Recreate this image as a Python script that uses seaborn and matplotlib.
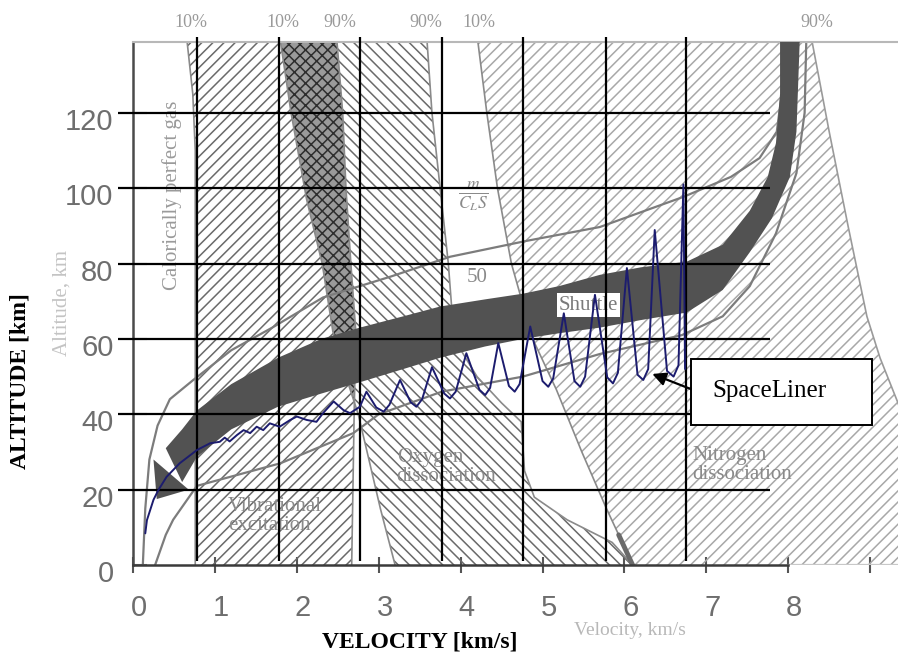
import numpy as np
import matplotlib
matplotlib.use("Agg")
import matplotlib.pyplot as plt
import matplotlib.transforms as mtransforms
from matplotlib import font_manager
from matplotlib.patches import Rectangle
import seaborn as sns

# ---------------- data ----------------
# SpaceLiner trajectory: velocity [km/s], altitude [km]
TRAJ_V = [0.15, 0.17, 0.21, 0.25, 0.31, 0.41, 0.57, 0.78, 0.94, 1.06,
          1.12, 1.18, 1.27, 1.35, 1.43, 1.51, 1.59, 1.67, 1.79, 1.92,
          2.00, 2.12, 2.24, 2.32, 2.45, 2.57, 2.65, 2.77, 2.85, 2.97,
          3.06, 3.13, 3.26, 3.39, 3.46, 3.53, 3.65, 3.80, 3.87, 3.94,
          4.07, 4.23, 4.30, 4.36, 4.46, 4.59, 4.66, 4.72, 4.85, 5.00,
          5.07, 5.13, 5.26, 5.39, 5.46, 5.52, 5.64, 5.79, 5.86, 5.92,
          6.03, 6.16, 6.23, 6.29, 6.37, 6.52, 6.60, 6.66, 6.72, 6.74]
TRAJ_A = [8.4, 11.9, 14.6, 17.3, 19.9, 23.4, 27.0, 30.5, 32.3, 32.7,
          33.8, 32.8, 34.5, 35.8, 35.0, 36.7, 35.8, 37.6, 36.7, 38.5,
          39.4, 38.5, 38.0, 40.3, 43.4, 41.1, 40.3, 42.0, 46.0, 41.8,
          40.7, 42.5, 49.1, 43.2, 42.0, 44.0, 52.5, 45.5, 44.2, 46.0,
          56.2, 46.5, 45.1, 47.0, 58.9, 47.5, 46.0, 48.0, 63.3, 48.8,
          47.3, 49.5, 66.8, 48.8, 47.3, 50.0, 71.7, 49.8, 48.2, 51.0,
          78.8, 50.5, 49.1, 52.0, 88.9, 51.5, 50.0, 53.0, 101.0, 52.0]

# Shuttle entry corridor (upper and lower edge) and its arrow head
SHUTTLE_UP_V = [0.40, 0.60, 0.78, 1.20, 1.77, 2.30, 2.77, 3.30, 3.75, 4.30, 4.76,
                5.20, 5.70, 6.20, 6.76, 7.20, 7.53, 7.75, 7.85, 7.90, 7.90]
SHUTTLE_UP_A = [31, 36, 41, 48, 55, 60, 63, 66, 68.6, 70.5, 72,
                74, 77, 79, 80.5, 85, 94, 103, 112, 125, 139]
SHUTTLE_LO_V = [0.60, 0.78, 1.20, 1.77, 2.30, 2.77, 3.30, 3.75, 4.30, 4.76,
                5.20, 5.70, 6.20, 6.76, 7.20, 7.53, 7.80, 8.02, 8.10, 8.14]
SHUTTLE_LO_A = [22, 28.7, 36, 42, 45.5, 48.5, 52, 55, 58, 60,
                61.5, 63, 65, 67, 73, 83, 92, 103, 115, 139]
SHUTTLE_HEAD_V = [0.25, 0.29, 0.68]
SHUTTLE_HEAD_A = [28.0, 17.5, 20.0]

# Region boundaries (10 % / 90 % lines), altitude ascending
VIB10_A = [0, 40, 80, 110, 125, 139]
VIB10_V = [0.76, 0.76, 0.76, 0.76, 0.73, 0.66]
VIB90_A = [0, 40, 62, 80, 100, 120, 139]
VIB90_V = [2.67, 2.70, 2.72, 2.66, 2.60, 2.56, 2.49]
OXY10_A = [0, 15, 28, 40, 50, 62, 80, 97, 120, 139]
OXY10_V = [3.20, 3.02, 2.88, 2.75, 2.60, 2.44, 2.31, 2.12, 1.93, 1.80]
OXY90_A = [0, 6, 12, 18, 25, 38, 43, 50, 60, 80, 100, 120, 139]
OXY90_V = [6.10, 5.85, 5.30, 4.90, 4.78, 4.74, 4.50, 4.20, 3.92, 3.85, 3.75, 3.65, 3.59]
NIT10_A = [0, 8, 15, 30, 46.5, 60, 80, 100, 120, 139]
NIT10_V = [6.10, 5.93, 5.78, 5.48, 5.17, 4.88, 4.62, 4.45, 4.32, 4.21]
NIT90_A = [0, 20, 43, 55, 66, 90, 115, 139]
NIT90_V = [10.0, 9.70, 9.34, 9.12, 8.96, 8.73, 8.50, 8.29]

# lines of constant m/(C_L S)
MCLS_HI_V = [0.12, 0.15, 0.20, 0.30, 0.45, 0.73, 1.20, 1.70, 2.32, 3.14,
             3.87, 4.80, 5.70, 6.72, 7.30, 7.65, 7.86, 7.92, 7.95]
MCLS_HI_A = [0, 15, 28, 37, 44, 49, 57, 63, 71, 76.5,
             81.8, 86, 89.7, 97.7, 103, 108, 115, 125, 139]
MCLS_LO_V = [0.27, 0.40, 0.49, 0.78, 1.80, 2.69, 3.00, 3.77, 4.76, 5.70,
             6.70, 7.20, 7.53, 7.85, 8.10, 8.20, 8.22]
MCLS_LO_A = [0, 8, 12, 21, 27, 35, 40, 46, 50, 56,
             61, 66, 74, 88, 104, 120, 139]

# ticks, overlay grid, percentage labels
X_TICKS = [0, 1, 2, 3, 4, 5, 6, 7, 8, 9]
X_TICKLABELS = ["0", "1", "2", "3", "4", "5", "6", "7", "8", ""]
Y_TICKS = [0, 20, 40, 60, 80, 100, 120]
GRID_V = [0.78, 1.78, 2.77, 3.77, 4.76, 5.77, 6.75]
GRID_A = [20, 40, 60, 80, 100, 120]
PCT_TEXT = ["10%", "10%", "90%", "90%", "10%", "90%"]
PCT_V = [0.71, 1.83, 2.53, 3.57, 4.22, 8.35]

# ---------------- style ----------------
sns.set_theme(style="white")


def pick_font(cands, default):
    for f in cands:
        try:
            font_manager.findfont(font_manager.FontProperties(family=f),
                                  fallback_to_default=False)
            return f
        except Exception:
            pass
    return default


SERIF = pick_font(["Liberation Serif"], "DejaVu Serif")
NARROW = pick_font(["Liberation Sans Narrow"], None)
TICKFONT = NARROW if NARROW else "Liberation Sans"
TICKSIZE = 24 if NARROW else 21
plt.rcParams["font.family"] = [SERIF, "DejaVu Sans"]
plt.rcParams["mathtext.fontset"] = "stix"
plt.rcParams["hatch.linewidth"] = 1.1

W, H = 898, 657
fig = plt.figure(figsize=(W / 100, H / 100), dpi=100)
fig.patch.set_facecolor("white")
ax = fig.add_axes([133 / W, 1 - 565 / H, 1 - 133 / W, (565 - 42) / H])
ax.set_facecolor("white")
XMAX, YMAX = 9.34, 138.8

# ---------------- hatched regions ----------------
alt_f = np.linspace(0, 139, 500)
vib10 = np.interp(alt_f, VIB10_A, VIB10_V)
vib90 = np.interp(alt_f, VIB90_A, VIB90_V)
oxy10 = np.interp(alt_f, OXY10_A, OXY10_V)
oxy90 = np.interp(alt_f, OXY90_A, OXY90_V)
nit10 = np.interp(alt_f, NIT10_A, NIT10_V)
nit90 = np.interp(alt_f, NIT90_A, NIT90_V)

ax.fill_betweenx(alt_f, vib10, vib90, facecolor="none", edgecolor="#6a6a6a",
                 hatch="///", linewidth=0, zorder=1)
ax.fill_betweenx(alt_f, oxy10, oxy90, facecolor="none", edgecolor="#6a6a6a",
                 hatch="\\\\\\", linewidth=0, zorder=1)
ax.fill_betweenx(alt_f, nit10, nit90, facecolor="none", edgecolor="#a8a8a8",
                 hatch="///", linewidth=0, zorder=1)
# overlap of vibrational and oxygen regions (dark cross-hatch)
ax.fill_betweenx(alt_f, oxy10, vib90, where=vib90 > oxy10, interpolate=True,
                 facecolor="#9a9a9a", edgecolor="#2e2e2e", hatch="xxx",
                 linewidth=0, zorder=1.5)

# boundaries
for bv, ba, col in [(VIB10_V, VIB10_A, "#8a8a8a"), (VIB90_V, VIB90_A, "#8a8a8a"),
                    (OXY10_V, OXY10_A, "#8a8a8a"), (OXY90_V, OXY90_A, "#8a8a8a"),
                    (NIT10_V, NIT10_A, "#8a8a8a"), (NIT90_V, NIT90_A, "#9a9a9a")]:
    sns.lineplot(x=bv, y=ba, sort=False, estimator=None, color=col,
                 linewidth=1.2, ax=ax, zorder=2)
sns.lineplot(x=NIT10_V[:2], y=NIT10_A[:2], sort=False, estimator=None,
             color="#6a6a6a", linewidth=3.5, ax=ax, zorder=2)

# constant m/(C_L S) lines
for cv, ca in [(MCLS_HI_V, MCLS_HI_A), (MCLS_LO_V, MCLS_LO_A)]:
    sns.lineplot(x=cv, y=ca, sort=False, estimator=None, color="#7c7c7c",
                 linewidth=1.6, ax=ax, zorder=2)

# shuttle corridor
band_v = SHUTTLE_UP_V + SHUTTLE_LO_V[::-1]
band_a = SHUTTLE_UP_A + SHUTTLE_LO_A[::-1]
ax.fill(band_v, band_a, color="#525252", linewidth=0, zorder=3)
ax.fill(SHUTTLE_HEAD_V, SHUTTLE_HEAD_A, color="#525252", linewidth=0, zorder=3)

# gray labels of the original diagram
gray = "#8a8a8a"
ax.text(0.48, 98.2, "Calorically perfect gas", rotation=90, ha="center",
        va="center", fontsize=15, color="#9a9a9a", zorder=3.5)
ax.text(-0.87, 69.5, "Altitude, km", rotation=90, ha="center", va="center",
        fontsize=15, color="#c4c4c4", zorder=3.5, clip_on=False)
ax.text(6.07, -17.3, "Velocity, km/s", ha="center", va="center",
        fontsize=14, color="#b8b8b8", zorder=3.5, clip_on=False)
ax.text(4.15, 98, r"$\frac{m}{C_L S}$", ha="center", va="center",
        fontsize=18, color=gray, zorder=3.5)
ax.text(4.2, 76.2, "50", ha="center", va="center", fontsize=15, color=gray,
        zorder=3.5)
ax.text(5.56, 69, "Shuttle", ha="center", va="center", fontsize=15,
        color="#7a7a7a", zorder=3.6,
        bbox=dict(facecolor="white", edgecolor="none", pad=1.5))
ax.text(1.16, 13, "Vibrational\nexcitation", ha="left", va="center",
        fontsize=15, color=gray, linespacing=1.0, zorder=3.5)
ax.text(3.22, 26, "Oxygen\ndissociation", ha="left", va="center",
        fontsize=15, color=gray, linespacing=1.0, zorder=3.5)
ax.text(6.83, 26.5, "Nitrogen\ndissociation", ha="left", va="center",
        fontsize=15, color=gray, linespacing=1.0, zorder=3.5)
for t, v in zip(PCT_TEXT, PCT_V):
    ax.text(v, 143.9, t, ha="center", va="center", fontsize=13,
            color="#9a9a9a", clip_on=False)

# ---------------- overlay grid ----------------
ax.hlines(GRID_A, -0.18, 7.78, colors="black", linewidth=1.6, zorder=4,
          clip_on=False)
ax.vlines(GRID_V, 1.0, 140.2, colors="black", linewidth=1.6, zorder=4,
          clip_on=False)

# ---------------- SpaceLiner trajectory ----------------
sns.lineplot(x=TRAJ_V, y=TRAJ_A, sort=False, estimator=None, color="#1c1c6e",
             linewidth=1.4, ax=ax, zorder=5)

# annotation box
ax.add_patch(Rectangle((6.81, 37.2), 2.21, 17.5, facecolor="white",
                       edgecolor="black", linewidth=1.4, zorder=6))
ax.text(7.07, 46.3, "SpaceLiner", ha="left", va="center", fontsize=18,
        color="black", zorder=7)
ax.annotate("", xy=(6.34, 50.7), xytext=(6.81, 46.7),
            arrowprops=dict(arrowstyle="-|>", color="black", lw=1.6,
                            mutation_scale=20, shrinkA=0, shrinkB=0),
            zorder=7)

# ---------------- axes ----------------
ax.set_xlim(0, XMAX)
ax.set_ylim(0, YMAX)
ax.set_xticks(X_TICKS)
ax.set_xticklabels(X_TICKLABELS)
ax.set_yticks(Y_TICKS)
ax.set_yticklabels([str(v) for v in Y_TICKS])
for lab in ax.get_xticklabels() + ax.get_yticklabels():
    lab.set_fontfamily(TICKFONT)
    lab.set_fontsize(TICKSIZE)
    lab.set_color("#6e6e6e")
ax.tick_params(axis="x", direction="inout", length=12, width=1.5,
               color="#555555", pad=15, bottom=True)
ax.tick_params(axis="y", direction="in", length=10, width=1.5,
               color="#888888", pad=14, left=True)

ax.spines["right"].set_visible(False)
ax.spines["left"].set_color("#4a4a4a")
ax.spines["left"].set_linewidth(1.8)
ax.spines["bottom"].set_color("#3a3a3a")
ax.spines["bottom"].set_linewidth(1.8)
ax.spines["bottom"].set_bounds(0, 8)
ax.spines["top"].set_color("#b8b8b8")
ax.spines["top"].set_linewidth(1.5)
ax.axhline(0, xmin=8 / XMAX, xmax=1, color="#c8c8c8", linewidth=1.6,
           zorder=2)
ax.grid(False)

ax.set_xlabel("VELOCITY [km/s]", fontsize=17, fontweight="bold",
              family=SERIF, color="black", va="center")
ax.xaxis.set_label_coords((420 - 133) / (W - 133), (565 - 642) / (565 - 42))
ax.set_ylabel("ALTITUDE [km]", fontsize=17, fontweight="bold",
              family=SERIF, color="black", va="center")
ax.yaxis.set_label_coords((20 - 133) / (W - 133), (565 - 381) / (565 - 42))

# small offsets of the tick labels as in the scanned figure
for lab in ax.get_xticklabels():
    lab.set_transform(lab.get_transform() +
                      mtransforms.ScaledTranslation(6 / 100, 0, fig.dpi_scale_trans))
for lab in ax.get_yticklabels():
    lab.set_transform(lab.get_transform() +
                      mtransforms.ScaledTranslation(0, -6 / 100, fig.dpi_scale_trans))

fig.savefig("out.png", dpi=100, facecolor="white")
